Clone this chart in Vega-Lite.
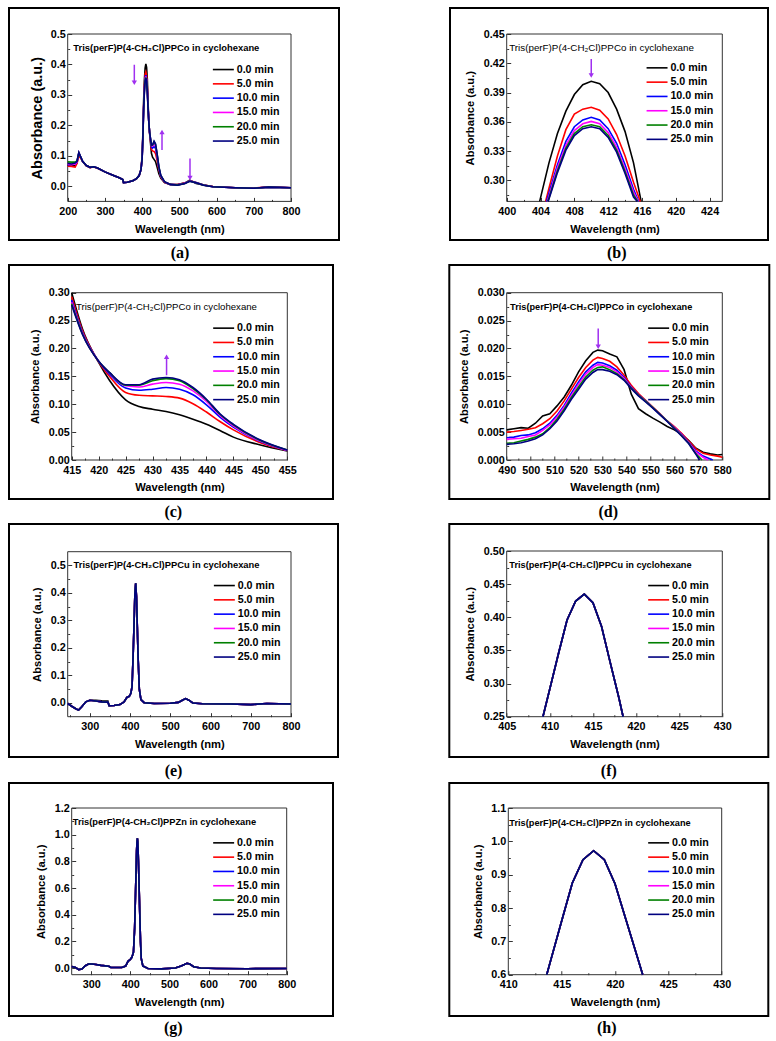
{
"$schema":"https://vega.github.io/schema/vega-lite/v6.json",
"padding":{"left":8,"top":7,"right":4,"bottom":0},
"background":"white",
"resolve":{"scale":{"color":"independent","shape":"independent","x":"independent","y":"independent"}},
"spacing":2,
"datasets":{
"a":[
{"s":0,"w":200,"a":0.069},{"s":0,"w":210,"a":0.068},{"s":0,"w":220,"a":0.068},{"s":0,"w":225,"a":0.077},{"s":0,"w":230,"a":0.108},{"s":0,"w":235,"a":0.095},{"s":0,"w":240,"a":0.082},{"s":0,"w":250,"a":0.068},{"s":0,"w":260,"a":0.062},{"s":0,"w":270,"a":0.064},{"s":0,"w":280,"a":0.06},{"s":0,"w":300,"a":0.047},{"s":0,"w":320,"a":0.037},{"s":0,"w":340,"a":0.027},{"s":0,"w":348,"a":0.022},{"s":0,"w":350,"a":0.012},{"s":0,"w":360,"a":0.013},{"s":0,"w":375,"a":0.018},{"s":0,"w":385,"a":0.025},{"s":0,"w":392,"a":0.035},{"s":0,"w":397,"a":0.055},{"s":0,"w":400,"a":0.1},{"s":0,"w":402,"a":0.175},{"s":0,"w":404,"a":0.28},{"s":0,"w":406,"a":0.348},{"s":0,"w":408,"a":0.388},{"s":0,"w":410,"a":0.4015},{"s":0,"w":412,"a":0.39},{"s":0,"w":414,"a":0.35},{"s":0,"w":416,"a":0.272},{"s":0,"w":418,"a":0.21},{"s":0,"w":420,"a":0.175},{"s":0,"w":425,"a":0.108},{"s":0,"w":428,"a":0.095},{"s":0,"w":432,"a":0.088},{"s":0,"w":436,"a":0.081},{"s":0,"w":440,"a":0.064},{"s":0,"w":445,"a":0.041},{"s":0,"w":450,"a":0.027},{"s":0,"w":460,"a":0.012},{"s":0,"w":475,"a":0.006},{"s":0,"w":495,"a":0.0057},{"s":0,"w":515,"a":0.011},{"s":0,"w":528,"a":0.0197},{"s":0,"w":545,"a":0.0092},{"s":0,"w":565,"a":0.004},{"s":0,"w":590,"a":-0.001},{"s":0,"w":650,"a":-0.005},{"s":0,"w":700,"a":-0.007},{"s":0,"w":740,"a":-0.003},{"s":0,"w":800,"a":-0.005},
{"s":5,"w":200,"a":0.066},{"s":5,"w":210,"a":0.065},{"s":5,"w":220,"a":0.063},{"s":5,"w":225,"a":0.075},{"s":5,"w":230,"a":0.1},{"s":5,"w":235,"a":0.092},{"s":5,"w":240,"a":0.081},{"s":5,"w":250,"a":0.067},{"s":5,"w":260,"a":0.061},{"s":5,"w":270,"a":0.063},{"s":5,"w":280,"a":0.059},{"s":5,"w":300,"a":0.047},{"s":5,"w":320,"a":0.037},{"s":5,"w":340,"a":0.027},{"s":5,"w":348,"a":0.022},{"s":5,"w":350,"a":0.012},{"s":5,"w":360,"a":0.013},{"s":5,"w":375,"a":0.018},{"s":5,"w":385,"a":0.025},{"s":5,"w":392,"a":0.035},{"s":5,"w":397,"a":0.055},{"s":5,"w":400,"a":0.095},{"s":5,"w":402,"a":0.165},{"s":5,"w":404,"a":0.262},{"s":5,"w":406,"a":0.325},{"s":5,"w":408,"a":0.368},{"s":5,"w":410,"a":0.375},{"s":5,"w":412,"a":0.363},{"s":5,"w":414,"a":0.325},{"s":5,"w":416,"a":0.262},{"s":5,"w":418,"a":0.21},{"s":5,"w":420,"a":0.176},{"s":5,"w":425,"a":0.121},{"s":5,"w":428,"a":0.116},{"s":5,"w":432,"a":0.114},{"s":5,"w":436,"a":0.107},{"s":5,"w":440,"a":0.086},{"s":5,"w":445,"a":0.054},{"s":5,"w":450,"a":0.031},{"s":5,"w":460,"a":0.013},{"s":5,"w":475,"a":0.006},{"s":5,"w":495,"a":0.0052},{"s":5,"w":515,"a":0.01},{"s":5,"w":528,"a":0.0184},{"s":5,"w":545,"a":0.0119},{"s":5,"w":565,"a":0.0038},{"s":5,"w":590,"a":-0.001},{"s":5,"w":650,"a":-0.005},{"s":5,"w":700,"a":-0.006},{"s":5,"w":740,"a":-0.002},{"s":5,"w":800,"a":-0.005},
{"s":10,"w":200,"a":0.07},{"s":10,"w":210,"a":0.072},{"s":10,"w":220,"a":0.072},{"s":10,"w":225,"a":0.079},{"s":10,"w":230,"a":0.11},{"s":10,"w":235,"a":0.096},{"s":10,"w":240,"a":0.082},{"s":10,"w":250,"a":0.068},{"s":10,"w":260,"a":0.062},{"s":10,"w":270,"a":0.064},{"s":10,"w":280,"a":0.06},{"s":10,"w":300,"a":0.047},{"s":10,"w":320,"a":0.037},{"s":10,"w":340,"a":0.027},{"s":10,"w":348,"a":0.022},{"s":10,"w":350,"a":0.012},{"s":10,"w":360,"a":0.013},{"s":10,"w":375,"a":0.018},{"s":10,"w":385,"a":0.025},{"s":10,"w":392,"a":0.035},{"s":10,"w":397,"a":0.055},{"s":10,"w":400,"a":0.092},{"s":10,"w":402,"a":0.162},{"s":10,"w":404,"a":0.256},{"s":10,"w":406,"a":0.316},{"s":10,"w":408,"a":0.355},{"s":10,"w":410,"a":0.3646},{"s":10,"w":412,"a":0.353},{"s":10,"w":414,"a":0.316},{"s":10,"w":416,"a":0.258},{"s":10,"w":418,"a":0.21},{"s":10,"w":420,"a":0.177},{"s":10,"w":425,"a":0.129},{"s":10,"w":428,"a":0.125},{"s":10,"w":432,"a":0.13},{"s":10,"w":436,"a":0.124},{"s":10,"w":440,"a":0.099},{"s":10,"w":445,"a":0.059},{"s":10,"w":450,"a":0.033},{"s":10,"w":460,"a":0.014},{"s":10,"w":475,"a":0.006},{"s":10,"w":495,"a":0.0042},{"s":10,"w":515,"a":0.0095},{"s":10,"w":528,"a":0.0175},{"s":10,"w":545,"a":0.0117},{"s":10,"w":565,"a":0.0036},{"s":10,"w":590,"a":-0.002},{"s":10,"w":650,"a":-0.005},{"s":10,"w":700,"a":-0.007},{"s":10,"w":740,"a":-0.003},{"s":10,"w":800,"a":-0.005},
{"s":15,"w":200,"a":0.072},{"s":15,"w":210,"a":0.071},{"s":15,"w":220,"a":0.073},{"s":15,"w":225,"a":0.08},{"s":15,"w":230,"a":0.11},{"s":15,"w":235,"a":0.096},{"s":15,"w":240,"a":0.082},{"s":15,"w":250,"a":0.068},{"s":15,"w":260,"a":0.062},{"s":15,"w":270,"a":0.064},{"s":15,"w":280,"a":0.06},{"s":15,"w":300,"a":0.047},{"s":15,"w":320,"a":0.037},{"s":15,"w":340,"a":0.027},{"s":15,"w":348,"a":0.022},{"s":15,"w":350,"a":0.012},{"s":15,"w":360,"a":0.013},{"s":15,"w":375,"a":0.018},{"s":15,"w":385,"a":0.025},{"s":15,"w":392,"a":0.035},{"s":15,"w":397,"a":0.055},{"s":15,"w":400,"a":0.091},{"s":15,"w":402,"a":0.161},{"s":15,"w":404,"a":0.254},{"s":15,"w":406,"a":0.313},{"s":15,"w":408,"a":0.351},{"s":15,"w":410,"a":0.3605},{"s":15,"w":412,"a":0.349},{"s":15,"w":414,"a":0.312},{"s":15,"w":416,"a":0.256},{"s":15,"w":418,"a":0.21},{"s":15,"w":420,"a":0.177},{"s":15,"w":425,"a":0.133},{"s":15,"w":428,"a":0.132},{"s":15,"w":432,"a":0.139},{"s":15,"w":436,"a":0.132},{"s":15,"w":440,"a":0.105},{"s":15,"w":445,"a":0.061},{"s":15,"w":450,"a":0.034},{"s":15,"w":460,"a":0.014},{"s":15,"w":475,"a":0.006},{"s":15,"w":495,"a":0.0038},{"s":15,"w":515,"a":0.0093},{"s":15,"w":528,"a":0.0171},{"s":15,"w":545,"a":0.0116},{"s":15,"w":565,"a":0.0037},{"s":15,"w":590,"a":-0.002},{"s":15,"w":650,"a":-0.005},{"s":15,"w":700,"a":-0.007},{"s":15,"w":740,"a":-0.003},{"s":15,"w":800,"a":-0.005},
{"s":20,"w":200,"a":0.08},{"s":20,"w":210,"a":0.079},{"s":20,"w":220,"a":0.079},{"s":20,"w":225,"a":0.083},{"s":20,"w":230,"a":0.11},{"s":20,"w":235,"a":0.096},{"s":20,"w":240,"a":0.082},{"s":20,"w":250,"a":0.068},{"s":20,"w":260,"a":0.062},{"s":20,"w":270,"a":0.064},{"s":20,"w":280,"a":0.06},{"s":20,"w":300,"a":0.047},{"s":20,"w":320,"a":0.037},{"s":20,"w":340,"a":0.027},{"s":20,"w":348,"a":0.022},{"s":20,"w":350,"a":0.012},{"s":20,"w":360,"a":0.013},{"s":20,"w":375,"a":0.018},{"s":20,"w":385,"a":0.025},{"s":20,"w":392,"a":0.035},{"s":20,"w":397,"a":0.055},{"s":20,"w":400,"a":0.09},{"s":20,"w":402,"a":0.16},{"s":20,"w":404,"a":0.252},{"s":20,"w":406,"a":0.31},{"s":20,"w":408,"a":0.348},{"s":20,"w":410,"a":0.357},{"s":20,"w":412,"a":0.346},{"s":20,"w":414,"a":0.309},{"s":20,"w":416,"a":0.255},{"s":20,"w":418,"a":0.21},{"s":20,"w":420,"a":0.178},{"s":20,"w":425,"a":0.134},{"s":20,"w":428,"a":0.135},{"s":20,"w":432,"a":0.146},{"s":20,"w":436,"a":0.137},{"s":20,"w":440,"a":0.108},{"s":20,"w":445,"a":0.063},{"s":20,"w":450,"a":0.035},{"s":20,"w":460,"a":0.015},{"s":20,"w":475,"a":0.006},{"s":20,"w":495,"a":0.0034},{"s":20,"w":515,"a":0.0091},{"s":20,"w":528,"a":0.0166},{"s":20,"w":545,"a":0.0116},{"s":20,"w":565,"a":0.0035},{"s":20,"w":590,"a":-0.002},{"s":20,"w":650,"a":-0.005},{"s":20,"w":700,"a":-0.007},{"s":20,"w":740,"a":-0.003},{"s":20,"w":800,"a":-0.005},
{"s":25,"w":200,"a":0.075},{"s":25,"w":210,"a":0.073},{"s":25,"w":220,"a":0.076},{"s":25,"w":225,"a":0.082},{"s":25,"w":230,"a":0.11},{"s":25,"w":235,"a":0.096},{"s":25,"w":240,"a":0.082},{"s":25,"w":250,"a":0.068},{"s":25,"w":260,"a":0.062},{"s":25,"w":270,"a":0.064},{"s":25,"w":280,"a":0.06},{"s":25,"w":300,"a":0.047},{"s":25,"w":320,"a":0.037},{"s":25,"w":340,"a":0.027},{"s":25,"w":348,"a":0.022},{"s":25,"w":350,"a":0.012},{"s":25,"w":360,"a":0.013},{"s":25,"w":375,"a":0.018},{"s":25,"w":385,"a":0.025},{"s":25,"w":392,"a":0.035},{"s":25,"w":397,"a":0.055},{"s":25,"w":400,"a":0.09},{"s":25,"w":402,"a":0.16},{"s":25,"w":404,"a":0.25},{"s":25,"w":406,"a":0.308},{"s":25,"w":408,"a":0.346},{"s":25,"w":410,"a":0.355},{"s":25,"w":412,"a":0.344},{"s":25,"w":414,"a":0.307},{"s":25,"w":416,"a":0.254},{"s":25,"w":418,"a":0.21},{"s":25,"w":420,"a":0.178},{"s":25,"w":425,"a":0.135},{"s":25,"w":428,"a":0.136},{"s":25,"w":432,"a":0.148},{"s":25,"w":436,"a":0.139},{"s":25,"w":440,"a":0.109},{"s":25,"w":445,"a":0.064},{"s":25,"w":450,"a":0.036},{"s":25,"w":460,"a":0.015},{"s":25,"w":475,"a":0.006},{"s":25,"w":495,"a":0.0031},{"s":25,"w":515,"a":0.009},{"s":25,"w":528,"a":0.0162},{"s":25,"w":545,"a":0.0115},{"s":25,"w":565,"a":0.003},{"s":25,"w":590,"a":-0.002},{"s":25,"w":650,"a":-0.005},{"s":25,"w":700,"a":-0.007},{"s":25,"w":740,"a":-0.003},{"s":25,"w":800,"a":-0.005}
],
"b":[
{"s":0,"w":403.9,"a":0.2785},{"s":0,"w":405,"a":0.318},{"s":0,"w":406,"a":0.348},{"s":0,"w":407,"a":0.371},{"s":0,"w":408,"a":0.388},{"s":0,"w":409,"a":0.398},{"s":0,"w":410,"a":0.4015},{"s":0,"w":411,"a":0.399},{"s":0,"w":412,"a":0.39},{"s":0,"w":413,"a":0.373},{"s":0,"w":414,"a":0.35},{"s":0,"w":415,"a":0.318},{"s":0,"w":415.9,"a":0.2785},
{"s":5,"w":404.6,"a":0.2785},{"s":5,"w":405,"a":0.292},{"s":5,"w":406,"a":0.325},{"s":5,"w":407,"a":0.352},{"s":5,"w":408,"a":0.368},{"s":5,"w":409,"a":0.373},{"s":5,"w":410,"a":0.375},{"s":5,"w":411,"a":0.372},{"s":5,"w":412,"a":0.363},{"s":5,"w":413,"a":0.347},{"s":5,"w":414,"a":0.325},{"s":5,"w":415,"a":0.298},{"s":5,"w":415.8,"a":0.2785},
{"s":10,"w":404.7,"a":0.2785},{"s":10,"w":405,"a":0.287},{"s":10,"w":406,"a":0.316},{"s":10,"w":407,"a":0.34},{"s":10,"w":408,"a":0.355},{"s":10,"w":409,"a":0.362},{"s":10,"w":410,"a":0.3646},{"s":10,"w":411,"a":0.362},{"s":10,"w":412,"a":0.353},{"s":10,"w":413,"a":0.338},{"s":10,"w":414,"a":0.316},{"s":10,"w":415,"a":0.291},{"s":10,"w":415.6,"a":0.2785},
{"s":15,"w":404.8,"a":0.2785},{"s":15,"w":405,"a":0.284},{"s":15,"w":406,"a":0.313},{"s":15,"w":407,"a":0.336},{"s":15,"w":408,"a":0.351},{"s":15,"w":409,"a":0.358},{"s":15,"w":410,"a":0.3605},{"s":15,"w":411,"a":0.358},{"s":15,"w":412,"a":0.349},{"s":15,"w":413,"a":0.334},{"s":15,"w":414,"a":0.312},{"s":15,"w":415,"a":0.288},{"s":15,"w":415.55,"a":0.2785},
{"s":20,"w":404.85,"a":0.2785},{"s":20,"w":405,"a":0.282},{"s":20,"w":406,"a":0.31},{"s":20,"w":407,"a":0.333},{"s":20,"w":408,"a":0.348},{"s":20,"w":409,"a":0.355},{"s":20,"w":410,"a":0.357},{"s":20,"w":411,"a":0.355},{"s":20,"w":412,"a":0.346},{"s":20,"w":413,"a":0.331},{"s":20,"w":414,"a":0.309},{"s":20,"w":415,"a":0.285},{"s":20,"w":415.5,"a":0.2785},
{"s":25,"w":404.9,"a":0.2785},{"s":25,"w":405,"a":0.281},{"s":25,"w":406,"a":0.308},{"s":25,"w":407,"a":0.331},{"s":25,"w":408,"a":0.346},{"s":25,"w":409,"a":0.353},{"s":25,"w":410,"a":0.355},{"s":25,"w":411,"a":0.353},{"s":25,"w":412,"a":0.344},{"s":25,"w":413,"a":0.329},{"s":25,"w":414,"a":0.307},{"s":25,"w":415,"a":0.283},{"s":25,"w":415.45,"a":0.2785}
],
"c":[
{"s":0,"w":415,"a":0.3},{"s":0,"w":417,"a":0.235},{"s":0,"w":420,"a":0.175},{"s":0,"w":422,"a":0.143},{"s":0,"w":425,"a":0.108},{"s":0,"w":427.5,"a":0.096},{"s":0,"w":430,"a":0.091},{"s":0,"w":432.5,"a":0.087},{"s":0,"w":435,"a":0.081},{"s":0,"w":437.5,"a":0.073},{"s":0,"w":440,"a":0.064},{"s":0,"w":442.5,"a":0.053},{"s":0,"w":445,"a":0.041},{"s":0,"w":450,"a":0.027},{"s":0,"w":455,"a":0.016},
{"s":5,"w":415,"a":0.293},{"s":5,"w":417,"a":0.232},{"s":5,"w":420,"a":0.176},{"s":5,"w":422,"a":0.15},{"s":5,"w":425,"a":0.121},{"s":5,"w":427.5,"a":0.116},{"s":5,"w":430,"a":0.115},{"s":5,"w":432.5,"a":0.114},{"s":5,"w":435,"a":0.111},{"s":5,"w":437.5,"a":0.101},{"s":5,"w":440,"a":0.086},{"s":5,"w":442.5,"a":0.069},{"s":5,"w":445,"a":0.054},{"s":5,"w":450,"a":0.031},{"s":5,"w":455,"a":0.017},
{"s":10,"w":415,"a":0.287},{"s":10,"w":417,"a":0.229},{"s":10,"w":420,"a":0.177},{"s":10,"w":422,"a":0.154},{"s":10,"w":425,"a":0.129},{"s":10,"w":427.5,"a":0.125},{"s":10,"w":430,"a":0.127},{"s":10,"w":432.5,"a":0.13},{"s":10,"w":435,"a":0.127},{"s":10,"w":437.5,"a":0.117},{"s":10,"w":440,"a":0.099},{"s":10,"w":442.5,"a":0.077},{"s":10,"w":445,"a":0.059},{"s":10,"w":450,"a":0.033},{"s":10,"w":455,"a":0.017},
{"s":15,"w":415,"a":0.283},{"s":15,"w":417,"a":0.227},{"s":15,"w":420,"a":0.177},{"s":15,"w":422,"a":0.156},{"s":15,"w":425,"a":0.133},{"s":15,"w":427.5,"a":0.131},{"s":15,"w":430,"a":0.136},{"s":15,"w":432.5,"a":0.139},{"s":15,"w":435,"a":0.136},{"s":15,"w":437.5,"a":0.124},{"s":15,"w":440,"a":0.105},{"s":15,"w":442.5,"a":0.08},{"s":15,"w":445,"a":0.061},{"s":15,"w":450,"a":0.034},{"s":15,"w":455,"a":0.017},
{"s":20,"w":415,"a":0.28},{"s":20,"w":417,"a":0.226},{"s":20,"w":420,"a":0.177},{"s":20,"w":422,"a":0.157},{"s":20,"w":425,"a":0.134},{"s":20,"w":427.5,"a":0.134},{"s":20,"w":430,"a":0.142},{"s":20,"w":432.5,"a":0.146},{"s":20,"w":435,"a":0.142},{"s":20,"w":437.5,"a":0.128},{"s":20,"w":440,"a":0.108},{"s":20,"w":442.5,"a":0.082},{"s":20,"w":445,"a":0.063},{"s":20,"w":450,"a":0.035},{"s":20,"w":455,"a":0.018},
{"s":25,"w":415,"a":0.278},{"s":25,"w":417,"a":0.225},{"s":25,"w":420,"a":0.177},{"s":25,"w":422,"a":0.157},{"s":25,"w":425,"a":0.135},{"s":25,"w":427.5,"a":0.135},{"s":25,"w":430,"a":0.145},{"s":25,"w":432.5,"a":0.148},{"s":25,"w":435,"a":0.144},{"s":25,"w":437.5,"a":0.13},{"s":25,"w":440,"a":0.109},{"s":25,"w":442.5,"a":0.083},{"s":25,"w":445,"a":0.064},{"s":25,"w":450,"a":0.036},{"s":25,"w":455,"a":0.018}
],
"d":[
{"s":0,"w":490,"a":0.0054},{"s":0,"w":493,"a":0.0056},{"s":0,"w":496,"a":0.0058},{"s":0,"w":499,"a":0.0057},{"s":0,"w":502,"a":0.0066},{"s":0,"w":505,"a":0.0079},{"s":0,"w":508,"a":0.0083},{"s":0,"w":511,"a":0.0097},{"s":0,"w":514,"a":0.0113},{"s":0,"w":517,"a":0.0134},{"s":0,"w":520,"a":0.0158},{"s":0,"w":523,"a":0.0178},{"s":0,"w":526,"a":0.0193},{"s":0,"w":528,"a":0.0197},{"s":0,"w":530,"a":0.0196},{"s":0,"w":533,"a":0.019},{"s":0,"w":536,"a":0.0185},{"s":0,"w":539,"a":0.0162},{"s":0,"w":542,"a":0.0118},{"s":0,"w":545,"a":0.0092},{"s":0,"w":548,"a":0.0083},{"s":0,"w":551,"a":0.0075},{"s":0,"w":554,"a":0.0068},{"s":0,"w":557,"a":0.006},{"s":0,"w":560,"a":0.0054},{"s":0,"w":563,"a":0.0046},{"s":0,"w":566,"a":0.0035},{"s":0,"w":569,"a":0.0021},{"s":0,"w":572,"a":0.0014},{"s":0,"w":575,"a":0.0011},{"s":0,"w":578,"a":0.0009},{"s":0,"w":580,"a":0.001},
{"s":5,"w":490,"a":0.005},{"s":5,"w":493,"a":0.0051},{"s":5,"w":496,"a":0.0053},{"s":5,"w":499,"a":0.0055},{"s":5,"w":502,"a":0.0058},{"s":5,"w":505,"a":0.0065},{"s":5,"w":508,"a":0.0074},{"s":5,"w":511,"a":0.0088},{"s":5,"w":514,"a":0.0106},{"s":5,"w":517,"a":0.0127},{"s":5,"w":520,"a":0.0148},{"s":5,"w":523,"a":0.0166},{"s":5,"w":526,"a":0.0179},{"s":5,"w":528,"a":0.0184},{"s":5,"w":530,"a":0.0182},{"s":5,"w":533,"a":0.0177},{"s":5,"w":536,"a":0.0167},{"s":5,"w":539,"a":0.0152},{"s":5,"w":542,"a":0.0134},{"s":5,"w":545,"a":0.0119},{"s":5,"w":548,"a":0.0107},{"s":5,"w":551,"a":0.0095},{"s":5,"w":554,"a":0.0083},{"s":5,"w":557,"a":0.007},{"s":5,"w":560,"a":0.006},{"s":5,"w":563,"a":0.0048},{"s":5,"w":566,"a":0.0034},{"s":5,"w":569,"a":0.002},{"s":5,"w":572,"a":0.0012},{"s":5,"w":575,"a":0.0009},{"s":5,"w":578,"a":0.0007},{"s":5,"w":580,"a":0.0005},
{"s":10,"w":490,"a":0.004},{"s":10,"w":493,"a":0.0041},{"s":10,"w":496,"a":0.0044},{"s":10,"w":499,"a":0.0045},{"s":10,"w":502,"a":0.0049},{"s":10,"w":505,"a":0.0056},{"s":10,"w":508,"a":0.0066},{"s":10,"w":511,"a":0.008},{"s":10,"w":514,"a":0.0098},{"s":10,"w":517,"a":0.012},{"s":10,"w":520,"a":0.014},{"s":10,"w":523,"a":0.0158},{"s":10,"w":526,"a":0.017},{"s":10,"w":528,"a":0.0175},{"s":10,"w":530,"a":0.0174},{"s":10,"w":533,"a":0.0169},{"s":10,"w":536,"a":0.0161},{"s":10,"w":539,"a":0.0148},{"s":10,"w":542,"a":0.0131},{"s":10,"w":545,"a":0.0117},{"s":10,"w":548,"a":0.0106},{"s":10,"w":551,"a":0.0094},{"s":10,"w":554,"a":0.0082},{"s":10,"w":557,"a":0.007},{"s":10,"w":560,"a":0.0058},{"s":10,"w":563,"a":0.0046},{"s":10,"w":566,"a":0.0032},{"s":10,"w":569,"a":0.0016},{"s":10,"w":572,"a":0.0007},{"s":10,"w":575,"a":0.0002},{"s":10,"w":576,"a":0},
{"s":15,"w":490,"a":0.0037},{"s":15,"w":493,"a":0.0038},{"s":15,"w":496,"a":0.0039},{"s":15,"w":499,"a":0.0042},{"s":15,"w":502,"a":0.0045},{"s":15,"w":505,"a":0.0053},{"s":15,"w":508,"a":0.0063},{"s":15,"w":511,"a":0.0077},{"s":15,"w":514,"a":0.0095},{"s":15,"w":517,"a":0.0116},{"s":15,"w":520,"a":0.0136},{"s":15,"w":523,"a":0.0154},{"s":15,"w":526,"a":0.0166},{"s":15,"w":528,"a":0.0171},{"s":15,"w":530,"a":0.017},{"s":15,"w":533,"a":0.0166},{"s":15,"w":536,"a":0.0158},{"s":15,"w":539,"a":0.0146},{"s":15,"w":542,"a":0.013},{"s":15,"w":545,"a":0.0116},{"s":15,"w":548,"a":0.0105},{"s":15,"w":551,"a":0.0094},{"s":15,"w":554,"a":0.0082},{"s":15,"w":557,"a":0.007},{"s":15,"w":560,"a":0.0058},{"s":15,"w":563,"a":0.0045},{"s":15,"w":566,"a":0.0031},{"s":15,"w":569,"a":0.0014},{"s":15,"w":572,"a":0.0005},{"s":15,"w":574,"a":0},
{"s":20,"w":490,"a":0.003},{"s":20,"w":493,"a":0.0031},{"s":20,"w":496,"a":0.0034},{"s":20,"w":499,"a":0.0037},{"s":20,"w":502,"a":0.0041},{"s":20,"w":505,"a":0.0047},{"s":20,"w":508,"a":0.0058},{"s":20,"w":511,"a":0.0073},{"s":20,"w":514,"a":0.0091},{"s":20,"w":517,"a":0.0112},{"s":20,"w":520,"a":0.0131},{"s":20,"w":523,"a":0.0149},{"s":20,"w":526,"a":0.0161},{"s":20,"w":528,"a":0.0166},{"s":20,"w":530,"a":0.0167},{"s":20,"w":533,"a":0.0162},{"s":20,"w":536,"a":0.0155},{"s":20,"w":539,"a":0.0144},{"s":20,"w":542,"a":0.0129},{"s":20,"w":545,"a":0.0116},{"s":20,"w":548,"a":0.0105},{"s":20,"w":551,"a":0.0094},{"s":20,"w":554,"a":0.0082},{"s":20,"w":557,"a":0.007},{"s":20,"w":560,"a":0.0057},{"s":20,"w":563,"a":0.0044},{"s":20,"w":566,"a":0.003},{"s":20,"w":569,"a":0.0011},{"s":20,"w":571.5,"a":0},
{"s":25,"w":490,"a":0.0028},{"s":25,"w":493,"a":0.0029},{"s":25,"w":496,"a":0.0031},{"s":25,"w":499,"a":0.0034},{"s":25,"w":502,"a":0.0038},{"s":25,"w":505,"a":0.0045},{"s":25,"w":508,"a":0.0056},{"s":25,"w":511,"a":0.007},{"s":25,"w":514,"a":0.0088},{"s":25,"w":517,"a":0.0109},{"s":25,"w":520,"a":0.0127},{"s":25,"w":523,"a":0.0145},{"s":25,"w":526,"a":0.0157},{"s":25,"w":528,"a":0.0162},{"s":25,"w":530,"a":0.0162},{"s":25,"w":533,"a":0.0159},{"s":25,"w":536,"a":0.0153},{"s":25,"w":539,"a":0.0143},{"s":25,"w":542,"a":0.0128},{"s":25,"w":545,"a":0.0115},{"s":25,"w":548,"a":0.0104},{"s":25,"w":551,"a":0.0093},{"s":25,"w":554,"a":0.0081},{"s":25,"w":557,"a":0.0069},{"s":25,"w":560,"a":0.0056},{"s":25,"w":563,"a":0.0043},{"s":25,"w":566,"a":0.0029},{"s":25,"w":569,"a":0.001},{"s":25,"w":570.5,"a":0}
],
"e":[
{"s":0,"w":245,"a":-0.002},{"s":0,"w":255,"a":-0.012},{"s":0,"w":265,"a":-0.021},{"s":0,"w":272,"a":-0.026},{"s":0,"w":280,"a":-0.014},{"s":0,"w":290,"a":0.004},{"s":0,"w":300,"a":0.01},{"s":0,"w":315,"a":0.01},{"s":0,"w":330,"a":0.008},{"s":0,"w":345,"a":0.007},{"s":0,"w":348,"a":-0.01},{"s":0,"w":360,"a":-0.009},{"s":0,"w":375,"a":-0.006},{"s":0,"w":385,"a":0.004},{"s":0,"w":392,"a":0.02},{"s":0,"w":398,"a":0.024},{"s":0,"w":402,"a":0.035},{"s":0,"w":405,"a":0.06},{"s":0,"w":408,"a":0.19},{"s":0,"w":410,"a":0.292},{"s":0,"w":412,"a":0.396},{"s":0,"w":414,"a":0.435},{"s":0,"w":416,"a":0.386},{"s":0,"w":418,"a":0.279},{"s":0,"w":420,"a":0.165},{"s":0,"w":423,"a":0.05},{"s":0,"w":427,"a":0.012},{"s":0,"w":435,"a":0.001},{"s":0,"w":460,"a":-0.002},{"s":0,"w":500,"a":-0.001},{"s":0,"w":520,"a":0.002},{"s":0,"w":530,"a":0.01},{"s":0,"w":538,"a":0.016},{"s":0,"w":546,"a":0.01},{"s":0,"w":556,"a":0},{"s":0,"w":580,"a":-0.003},{"s":0,"w":650,"a":-0.004},{"s":0,"w":700,"a":-0.006},{"s":0,"w":740,"a":-0.002},{"s":0,"w":800,"a":-0.004},
{"s":5,"w":245,"a":-0.002},{"s":5,"w":255,"a":-0.012},{"s":5,"w":265,"a":-0.021},{"s":5,"w":272,"a":-0.026},{"s":5,"w":280,"a":-0.014},{"s":5,"w":290,"a":0.004},{"s":5,"w":300,"a":0.01},{"s":5,"w":315,"a":0.007},{"s":5,"w":330,"a":0.004},{"s":5,"w":345,"a":0.003},{"s":5,"w":348,"a":-0.01},{"s":5,"w":360,"a":-0.009},{"s":5,"w":375,"a":-0.006},{"s":5,"w":385,"a":0.004},{"s":5,"w":392,"a":0.02},{"s":5,"w":398,"a":0.024},{"s":5,"w":402,"a":0.035},{"s":5,"w":405,"a":0.06},{"s":5,"w":408,"a":0.19},{"s":5,"w":410,"a":0.292},{"s":5,"w":412,"a":0.396},{"s":5,"w":414,"a":0.435},{"s":5,"w":416,"a":0.386},{"s":5,"w":418,"a":0.279},{"s":5,"w":420,"a":0.165},{"s":5,"w":423,"a":0.05},{"s":5,"w":427,"a":0.012},{"s":5,"w":435,"a":0.001},{"s":5,"w":460,"a":-0.002},{"s":5,"w":500,"a":-0.001},{"s":5,"w":520,"a":0.002},{"s":5,"w":530,"a":0.01},{"s":5,"w":538,"a":0.016},{"s":5,"w":546,"a":0.01},{"s":5,"w":556,"a":0},{"s":5,"w":580,"a":-0.003},{"s":5,"w":650,"a":-0.004},{"s":5,"w":700,"a":-0.006},{"s":5,"w":740,"a":-0.002},{"s":5,"w":800,"a":-0.004},
{"s":10,"w":245,"a":-0.002},{"s":10,"w":255,"a":-0.012},{"s":10,"w":265,"a":-0.021},{"s":10,"w":272,"a":-0.026},{"s":10,"w":280,"a":-0.014},{"s":10,"w":290,"a":0.004},{"s":10,"w":300,"a":0.01},{"s":10,"w":315,"a":0.007},{"s":10,"w":330,"a":0.004},{"s":10,"w":345,"a":0.003},{"s":10,"w":348,"a":-0.01},{"s":10,"w":360,"a":-0.009},{"s":10,"w":375,"a":-0.006},{"s":10,"w":385,"a":0.004},{"s":10,"w":392,"a":0.02},{"s":10,"w":398,"a":0.024},{"s":10,"w":402,"a":0.035},{"s":10,"w":405,"a":0.06},{"s":10,"w":408,"a":0.19},{"s":10,"w":410,"a":0.292},{"s":10,"w":412,"a":0.396},{"s":10,"w":414,"a":0.435},{"s":10,"w":416,"a":0.386},{"s":10,"w":418,"a":0.279},{"s":10,"w":420,"a":0.165},{"s":10,"w":423,"a":0.05},{"s":10,"w":427,"a":0.012},{"s":10,"w":435,"a":0.001},{"s":10,"w":460,"a":-0.002},{"s":10,"w":500,"a":-0.001},{"s":10,"w":520,"a":0.002},{"s":10,"w":530,"a":0.01},{"s":10,"w":538,"a":0.016},{"s":10,"w":546,"a":0.01},{"s":10,"w":556,"a":0},{"s":10,"w":580,"a":-0.003},{"s":10,"w":650,"a":-0.004},{"s":10,"w":700,"a":-0.006},{"s":10,"w":740,"a":-0.002},{"s":10,"w":800,"a":-0.004},
{"s":15,"w":245,"a":-0.002},{"s":15,"w":255,"a":-0.012},{"s":15,"w":265,"a":-0.021},{"s":15,"w":272,"a":-0.026},{"s":15,"w":280,"a":-0.014},{"s":15,"w":290,"a":0.004},{"s":15,"w":300,"a":0.01},{"s":15,"w":315,"a":0.007},{"s":15,"w":330,"a":0.004},{"s":15,"w":345,"a":0.003},{"s":15,"w":348,"a":-0.01},{"s":15,"w":360,"a":-0.009},{"s":15,"w":375,"a":-0.006},{"s":15,"w":385,"a":0.004},{"s":15,"w":392,"a":0.02},{"s":15,"w":398,"a":0.024},{"s":15,"w":402,"a":0.035},{"s":15,"w":405,"a":0.06},{"s":15,"w":408,"a":0.19},{"s":15,"w":410,"a":0.292},{"s":15,"w":412,"a":0.396},{"s":15,"w":414,"a":0.435},{"s":15,"w":416,"a":0.386},{"s":15,"w":418,"a":0.279},{"s":15,"w":420,"a":0.165},{"s":15,"w":423,"a":0.05},{"s":15,"w":427,"a":0.012},{"s":15,"w":435,"a":0.001},{"s":15,"w":460,"a":-0.002},{"s":15,"w":500,"a":-0.001},{"s":15,"w":520,"a":0.002},{"s":15,"w":530,"a":0.01},{"s":15,"w":538,"a":0.016},{"s":15,"w":546,"a":0.01},{"s":15,"w":556,"a":0},{"s":15,"w":580,"a":-0.003},{"s":15,"w":650,"a":-0.004},{"s":15,"w":700,"a":-0.006},{"s":15,"w":740,"a":-0.002},{"s":15,"w":800,"a":-0.004},
{"s":20,"w":245,"a":-0.002},{"s":20,"w":255,"a":-0.012},{"s":20,"w":265,"a":-0.021},{"s":20,"w":272,"a":-0.026},{"s":20,"w":280,"a":-0.014},{"s":20,"w":290,"a":0.004},{"s":20,"w":300,"a":0.01},{"s":20,"w":315,"a":0.007},{"s":20,"w":330,"a":0.004},{"s":20,"w":345,"a":0.003},{"s":20,"w":348,"a":-0.01},{"s":20,"w":360,"a":-0.009},{"s":20,"w":375,"a":-0.006},{"s":20,"w":385,"a":0.004},{"s":20,"w":392,"a":0.02},{"s":20,"w":398,"a":0.024},{"s":20,"w":402,"a":0.035},{"s":20,"w":405,"a":0.06},{"s":20,"w":408,"a":0.19},{"s":20,"w":410,"a":0.292},{"s":20,"w":412,"a":0.396},{"s":20,"w":414,"a":0.435},{"s":20,"w":416,"a":0.386},{"s":20,"w":418,"a":0.279},{"s":20,"w":420,"a":0.165},{"s":20,"w":423,"a":0.05},{"s":20,"w":427,"a":0.012},{"s":20,"w":435,"a":0.001},{"s":20,"w":460,"a":-0.002},{"s":20,"w":500,"a":-0.001},{"s":20,"w":520,"a":0.002},{"s":20,"w":530,"a":0.01},{"s":20,"w":538,"a":0.016},{"s":20,"w":546,"a":0.01},{"s":20,"w":556,"a":0},{"s":20,"w":580,"a":-0.003},{"s":20,"w":650,"a":-0.004},{"s":20,"w":700,"a":-0.006},{"s":20,"w":740,"a":-0.002},{"s":20,"w":800,"a":-0.004},
{"s":25,"w":245,"a":-0.002},{"s":25,"w":255,"a":-0.012},{"s":25,"w":265,"a":-0.021},{"s":25,"w":272,"a":-0.026},{"s":25,"w":280,"a":-0.014},{"s":25,"w":290,"a":0.004},{"s":25,"w":300,"a":0.01},{"s":25,"w":315,"a":0.007},{"s":25,"w":330,"a":0.004},{"s":25,"w":345,"a":0.003},{"s":25,"w":348,"a":-0.01},{"s":25,"w":360,"a":-0.009},{"s":25,"w":375,"a":-0.006},{"s":25,"w":385,"a":0.004},{"s":25,"w":392,"a":0.02},{"s":25,"w":398,"a":0.024},{"s":25,"w":402,"a":0.035},{"s":25,"w":405,"a":0.06},{"s":25,"w":408,"a":0.19},{"s":25,"w":410,"a":0.292},{"s":25,"w":412,"a":0.396},{"s":25,"w":414,"a":0.435},{"s":25,"w":416,"a":0.386},{"s":25,"w":418,"a":0.279},{"s":25,"w":420,"a":0.165},{"s":25,"w":423,"a":0.05},{"s":25,"w":427,"a":0.012},{"s":25,"w":435,"a":0.001},{"s":25,"w":460,"a":-0.002},{"s":25,"w":500,"a":-0.001},{"s":25,"w":520,"a":0.002},{"s":25,"w":530,"a":0.01},{"s":25,"w":538,"a":0.016},{"s":25,"w":546,"a":0.01},{"s":25,"w":556,"a":0},{"s":25,"w":580,"a":-0.003},{"s":25,"w":650,"a":-0.004},{"s":25,"w":700,"a":-0.006},{"s":25,"w":740,"a":-0.002},{"s":25,"w":800,"a":-0.004}
],
"f":[
{"s":0,"w":409.2,"a":0.25},{"s":0,"w":410,"a":0.292},{"s":0,"w":411,"a":0.345},{"s":0,"w":412,"a":0.396},{"s":0,"w":413,"a":0.4245},{"s":0,"w":414,"a":0.435},{"s":0,"w":415,"a":0.422},{"s":0,"w":416,"a":0.386},{"s":0,"w":417,"a":0.332},{"s":0,"w":418,"a":0.279},{"s":0,"w":418.5,"a":0.25},
{"s":5,"w":409.2,"a":0.25},{"s":5,"w":410,"a":0.292},{"s":5,"w":411,"a":0.345},{"s":5,"w":412,"a":0.396},{"s":5,"w":413,"a":0.4245},{"s":5,"w":414,"a":0.435},{"s":5,"w":415,"a":0.422},{"s":5,"w":416,"a":0.386},{"s":5,"w":417,"a":0.332},{"s":5,"w":418,"a":0.279},{"s":5,"w":418.5,"a":0.25},
{"s":10,"w":409.2,"a":0.25},{"s":10,"w":410,"a":0.292},{"s":10,"w":411,"a":0.345},{"s":10,"w":412,"a":0.396},{"s":10,"w":413,"a":0.4245},{"s":10,"w":414,"a":0.435},{"s":10,"w":415,"a":0.422},{"s":10,"w":416,"a":0.386},{"s":10,"w":417,"a":0.332},{"s":10,"w":418,"a":0.279},{"s":10,"w":418.5,"a":0.25},
{"s":15,"w":409.2,"a":0.25},{"s":15,"w":410,"a":0.292},{"s":15,"w":411,"a":0.345},{"s":15,"w":412,"a":0.396},{"s":15,"w":413,"a":0.4245},{"s":15,"w":414,"a":0.435},{"s":15,"w":415,"a":0.422},{"s":15,"w":416,"a":0.386},{"s":15,"w":417,"a":0.332},{"s":15,"w":418,"a":0.279},{"s":15,"w":418.5,"a":0.25},
{"s":20,"w":409.2,"a":0.25},{"s":20,"w":410,"a":0.292},{"s":20,"w":411,"a":0.345},{"s":20,"w":412,"a":0.396},{"s":20,"w":413,"a":0.4245},{"s":20,"w":414,"a":0.435},{"s":20,"w":415,"a":0.422},{"s":20,"w":416,"a":0.386},{"s":20,"w":417,"a":0.332},{"s":20,"w":418,"a":0.279},{"s":20,"w":418.5,"a":0.25},
{"s":25,"w":409.2,"a":0.25},{"s":25,"w":410,"a":0.292},{"s":25,"w":411,"a":0.345},{"s":25,"w":412,"a":0.396},{"s":25,"w":413,"a":0.4245},{"s":25,"w":414,"a":0.435},{"s":25,"w":415,"a":0.422},{"s":25,"w":416,"a":0.386},{"s":25,"w":417,"a":0.332},{"s":25,"w":418,"a":0.279},{"s":25,"w":418.5,"a":0.25}
],
"g":[
{"s":0,"w":250,"a":0.012},{"s":0,"w":260,"a":0.004},{"s":0,"w":268,"a":-0.012},{"s":0,"w":276,"a":-0.008},{"s":0,"w":285,"a":0.017},{"s":0,"w":293,"a":0.03},{"s":0,"w":302,"a":0.03},{"s":0,"w":312,"a":0.027},{"s":0,"w":325,"a":0.02},{"s":0,"w":345,"a":0.013},{"s":0,"w":350,"a":0.004},{"s":0,"w":362,"a":0.004},{"s":0,"w":378,"a":0.004},{"s":0,"w":388,"a":0.015},{"s":0,"w":394,"a":0.05},{"s":0,"w":400,"a":0.065},{"s":0,"w":404,"a":0.08},{"s":0,"w":408,"a":0.12},{"s":0,"w":411,"a":0.3},{"s":0,"w":413,"a":0.53},{"s":0,"w":414,"a":0.646},{"s":0,"w":415,"a":0.761},{"s":0,"w":416,"a":0.875},{"s":0,"w":417,"a":0.945},{"s":0,"w":418,"a":0.972},{"s":0,"w":419,"a":0.945},{"s":0,"w":420,"a":0.873},{"s":0,"w":421,"a":0.768},{"s":0,"w":422,"a":0.663},{"s":0,"w":424,"a":0.42},{"s":0,"w":426,"a":0.2},{"s":0,"w":428,"a":0.07},{"s":0,"w":432,"a":0.015},{"s":0,"w":445,"a":-0.004},{"s":0,"w":480,"a":-0.006},{"s":0,"w":515,"a":0},{"s":0,"w":530,"a":0.015},{"s":0,"w":545,"a":0.035},{"s":0,"w":552,"a":0.03},{"s":0,"w":562,"a":0.01},{"s":0,"w":580,"a":0},{"s":0,"w":620,"a":-0.003},{"s":0,"w":700,"a":-0.005},{"s":0,"w":800,"a":-0.003},
{"s":5,"w":250,"a":0.012},{"s":5,"w":260,"a":0.004},{"s":5,"w":268,"a":-0.012},{"s":5,"w":276,"a":-0.008},{"s":5,"w":285,"a":0.017},{"s":5,"w":293,"a":0.03},{"s":5,"w":302,"a":0.03},{"s":5,"w":312,"a":0.027},{"s":5,"w":325,"a":0.02},{"s":5,"w":345,"a":0.013},{"s":5,"w":350,"a":0.004},{"s":5,"w":362,"a":0.004},{"s":5,"w":378,"a":0.004},{"s":5,"w":388,"a":0.015},{"s":5,"w":394,"a":0.05},{"s":5,"w":400,"a":0.065},{"s":5,"w":404,"a":0.08},{"s":5,"w":408,"a":0.12},{"s":5,"w":411,"a":0.3},{"s":5,"w":413,"a":0.53},{"s":5,"w":414,"a":0.646},{"s":5,"w":415,"a":0.761},{"s":5,"w":416,"a":0.875},{"s":5,"w":417,"a":0.945},{"s":5,"w":418,"a":0.972},{"s":5,"w":419,"a":0.945},{"s":5,"w":420,"a":0.873},{"s":5,"w":421,"a":0.768},{"s":5,"w":422,"a":0.663},{"s":5,"w":424,"a":0.42},{"s":5,"w":426,"a":0.2},{"s":5,"w":428,"a":0.07},{"s":5,"w":432,"a":0.015},{"s":5,"w":445,"a":-0.004},{"s":5,"w":480,"a":-0.006},{"s":5,"w":515,"a":0},{"s":5,"w":530,"a":0.015},{"s":5,"w":545,"a":0.035},{"s":5,"w":552,"a":0.03},{"s":5,"w":562,"a":0.01},{"s":5,"w":580,"a":0},{"s":5,"w":620,"a":-0.003},{"s":5,"w":700,"a":-0.005},{"s":5,"w":800,"a":-0.003},
{"s":10,"w":250,"a":0.012},{"s":10,"w":260,"a":0.004},{"s":10,"w":268,"a":-0.012},{"s":10,"w":276,"a":-0.008},{"s":10,"w":285,"a":0.017},{"s":10,"w":293,"a":0.03},{"s":10,"w":302,"a":0.03},{"s":10,"w":312,"a":0.027},{"s":10,"w":325,"a":0.02},{"s":10,"w":345,"a":0.013},{"s":10,"w":350,"a":0.004},{"s":10,"w":362,"a":0.004},{"s":10,"w":378,"a":0.004},{"s":10,"w":388,"a":0.015},{"s":10,"w":394,"a":0.05},{"s":10,"w":400,"a":0.065},{"s":10,"w":404,"a":0.08},{"s":10,"w":408,"a":0.12},{"s":10,"w":411,"a":0.3},{"s":10,"w":413,"a":0.53},{"s":10,"w":414,"a":0.646},{"s":10,"w":415,"a":0.761},{"s":10,"w":416,"a":0.875},{"s":10,"w":417,"a":0.945},{"s":10,"w":418,"a":0.972},{"s":10,"w":419,"a":0.945},{"s":10,"w":420,"a":0.873},{"s":10,"w":421,"a":0.768},{"s":10,"w":422,"a":0.663},{"s":10,"w":424,"a":0.42},{"s":10,"w":426,"a":0.2},{"s":10,"w":428,"a":0.07},{"s":10,"w":432,"a":0.015},{"s":10,"w":445,"a":-0.004},{"s":10,"w":480,"a":-0.006},{"s":10,"w":515,"a":0},{"s":10,"w":530,"a":0.015},{"s":10,"w":545,"a":0.035},{"s":10,"w":552,"a":0.03},{"s":10,"w":562,"a":0.01},{"s":10,"w":580,"a":0},{"s":10,"w":620,"a":-0.003},{"s":10,"w":700,"a":-0.005},{"s":10,"w":800,"a":-0.003},
{"s":15,"w":250,"a":0.012},{"s":15,"w":260,"a":0.004},{"s":15,"w":268,"a":-0.012},{"s":15,"w":276,"a":-0.008},{"s":15,"w":285,"a":0.017},{"s":15,"w":293,"a":0.03},{"s":15,"w":302,"a":0.03},{"s":15,"w":312,"a":0.027},{"s":15,"w":325,"a":0.02},{"s":15,"w":345,"a":0.013},{"s":15,"w":350,"a":0.004},{"s":15,"w":362,"a":0.004},{"s":15,"w":378,"a":0.004},{"s":15,"w":388,"a":0.015},{"s":15,"w":394,"a":0.05},{"s":15,"w":400,"a":0.065},{"s":15,"w":404,"a":0.08},{"s":15,"w":408,"a":0.12},{"s":15,"w":411,"a":0.3},{"s":15,"w":413,"a":0.53},{"s":15,"w":414,"a":0.646},{"s":15,"w":415,"a":0.761},{"s":15,"w":416,"a":0.875},{"s":15,"w":417,"a":0.945},{"s":15,"w":418,"a":0.972},{"s":15,"w":419,"a":0.945},{"s":15,"w":420,"a":0.873},{"s":15,"w":421,"a":0.768},{"s":15,"w":422,"a":0.663},{"s":15,"w":424,"a":0.42},{"s":15,"w":426,"a":0.2},{"s":15,"w":428,"a":0.07},{"s":15,"w":432,"a":0.015},{"s":15,"w":445,"a":-0.004},{"s":15,"w":480,"a":-0.006},{"s":15,"w":515,"a":0},{"s":15,"w":530,"a":0.015},{"s":15,"w":545,"a":0.035},{"s":15,"w":552,"a":0.03},{"s":15,"w":562,"a":0.01},{"s":15,"w":580,"a":0},{"s":15,"w":620,"a":-0.003},{"s":15,"w":700,"a":-0.005},{"s":15,"w":800,"a":-0.003},
{"s":20,"w":250,"a":0.012},{"s":20,"w":260,"a":0.004},{"s":20,"w":268,"a":-0.012},{"s":20,"w":276,"a":-0.008},{"s":20,"w":285,"a":0.017},{"s":20,"w":293,"a":0.03},{"s":20,"w":302,"a":0.03},{"s":20,"w":312,"a":0.027},{"s":20,"w":325,"a":0.02},{"s":20,"w":345,"a":0.013},{"s":20,"w":350,"a":0.004},{"s":20,"w":362,"a":0.004},{"s":20,"w":378,"a":0.004},{"s":20,"w":388,"a":0.015},{"s":20,"w":394,"a":0.05},{"s":20,"w":400,"a":0.065},{"s":20,"w":404,"a":0.08},{"s":20,"w":408,"a":0.12},{"s":20,"w":411,"a":0.3},{"s":20,"w":413,"a":0.53},{"s":20,"w":414,"a":0.646},{"s":20,"w":415,"a":0.761},{"s":20,"w":416,"a":0.875},{"s":20,"w":417,"a":0.945},{"s":20,"w":418,"a":0.972},{"s":20,"w":419,"a":0.945},{"s":20,"w":420,"a":0.873},{"s":20,"w":421,"a":0.768},{"s":20,"w":422,"a":0.663},{"s":20,"w":424,"a":0.42},{"s":20,"w":426,"a":0.2},{"s":20,"w":428,"a":0.07},{"s":20,"w":432,"a":0.015},{"s":20,"w":445,"a":-0.004},{"s":20,"w":480,"a":-0.006},{"s":20,"w":515,"a":0},{"s":20,"w":530,"a":0.015},{"s":20,"w":545,"a":0.035},{"s":20,"w":552,"a":0.03},{"s":20,"w":562,"a":0.01},{"s":20,"w":580,"a":0},{"s":20,"w":620,"a":-0.003},{"s":20,"w":700,"a":-0.005},{"s":20,"w":800,"a":-0.003},
{"s":25,"w":250,"a":0.012},{"s":25,"w":260,"a":0.004},{"s":25,"w":268,"a":-0.012},{"s":25,"w":276,"a":-0.008},{"s":25,"w":285,"a":0.017},{"s":25,"w":293,"a":0.03},{"s":25,"w":302,"a":0.03},{"s":25,"w":312,"a":0.027},{"s":25,"w":325,"a":0.02},{"s":25,"w":345,"a":0.013},{"s":25,"w":350,"a":0.004},{"s":25,"w":362,"a":0.004},{"s":25,"w":378,"a":0.004},{"s":25,"w":388,"a":0.015},{"s":25,"w":394,"a":0.05},{"s":25,"w":400,"a":0.065},{"s":25,"w":404,"a":0.08},{"s":25,"w":408,"a":0.12},{"s":25,"w":411,"a":0.3},{"s":25,"w":413,"a":0.53},{"s":25,"w":414,"a":0.646},{"s":25,"w":415,"a":0.761},{"s":25,"w":416,"a":0.875},{"s":25,"w":417,"a":0.945},{"s":25,"w":418,"a":0.972},{"s":25,"w":419,"a":0.945},{"s":25,"w":420,"a":0.873},{"s":25,"w":421,"a":0.768},{"s":25,"w":422,"a":0.663},{"s":25,"w":424,"a":0.42},{"s":25,"w":426,"a":0.2},{"s":25,"w":428,"a":0.07},{"s":25,"w":432,"a":0.015},{"s":25,"w":445,"a":-0.004},{"s":25,"w":480,"a":-0.006},{"s":25,"w":515,"a":0},{"s":25,"w":530,"a":0.015},{"s":25,"w":545,"a":0.035},{"s":25,"w":552,"a":0.03},{"s":25,"w":562,"a":0.01},{"s":25,"w":580,"a":0},{"s":25,"w":620,"a":-0.003},{"s":25,"w":700,"a":-0.005},{"s":25,"w":800,"a":-0.003}
],
"h":[
{"s":0,"w":413.6,"a":0.6},{"s":0,"w":414,"a":0.646},{"s":0,"w":415,"a":0.761},{"s":0,"w":416,"a":0.875},{"s":0,"w":417,"a":0.945},{"s":0,"w":418,"a":0.972},{"s":0,"w":419,"a":0.945},{"s":0,"w":420,"a":0.873},{"s":0,"w":421,"a":0.768},{"s":0,"w":422,"a":0.663},{"s":0,"w":422.6,"a":0.6},
{"s":5,"w":413.6,"a":0.6},{"s":5,"w":414,"a":0.646},{"s":5,"w":415,"a":0.761},{"s":5,"w":416,"a":0.875},{"s":5,"w":417,"a":0.945},{"s":5,"w":418,"a":0.972},{"s":5,"w":419,"a":0.945},{"s":5,"w":420,"a":0.873},{"s":5,"w":421,"a":0.768},{"s":5,"w":422,"a":0.663},{"s":5,"w":422.6,"a":0.6},
{"s":10,"w":413.6,"a":0.6},{"s":10,"w":414,"a":0.646},{"s":10,"w":415,"a":0.761},{"s":10,"w":416,"a":0.875},{"s":10,"w":417,"a":0.945},{"s":10,"w":418,"a":0.972},{"s":10,"w":419,"a":0.945},{"s":10,"w":420,"a":0.873},{"s":10,"w":421,"a":0.768},{"s":10,"w":422,"a":0.663},{"s":10,"w":422.6,"a":0.6},
{"s":15,"w":413.6,"a":0.6},{"s":15,"w":414,"a":0.646},{"s":15,"w":415,"a":0.761},{"s":15,"w":416,"a":0.875},{"s":15,"w":417,"a":0.945},{"s":15,"w":418,"a":0.972},{"s":15,"w":419,"a":0.945},{"s":15,"w":420,"a":0.873},{"s":15,"w":421,"a":0.768},{"s":15,"w":422,"a":0.663},{"s":15,"w":422.6,"a":0.6},
{"s":20,"w":413.6,"a":0.6},{"s":20,"w":414,"a":0.646},{"s":20,"w":415,"a":0.761},{"s":20,"w":416,"a":0.875},{"s":20,"w":417,"a":0.945},{"s":20,"w":418,"a":0.972},{"s":20,"w":419,"a":0.945},{"s":20,"w":420,"a":0.873},{"s":20,"w":421,"a":0.768},{"s":20,"w":422,"a":0.663},{"s":20,"w":422.6,"a":0.6},
{"s":25,"w":413.6,"a":0.6},{"s":25,"w":414,"a":0.646},{"s":25,"w":415,"a":0.761},{"s":25,"w":416,"a":0.875},{"s":25,"w":417,"a":0.945},{"s":25,"w":418,"a":0.972},{"s":25,"w":419,"a":0.945},{"s":25,"w":420,"a":0.873},{"s":25,"w":421,"a":0.768},{"s":25,"w":422,"a":0.663},{"s":25,"w":422.6,"a":0.6}
]
},
"vconcat":[
{"hconcat":[
{"width":330,"height":232,"title":{"text":"(a)","dx":6,"offset":4.7},
"resolve":{"axis":{"x":"independent","y":"independent"}},
"layer":[
{"data":{"values":[{}]},"mark":{"type":"rect","filled":false,"stroke":"#333333","strokeWidth":1},
"encoding":{"x":{"datum":200,"type":"quantitative","axis":{"orient":"bottom","offset":-38.6,"values":[250,350,450,550,650,750],"tickSize":-2,"labels":false,"title":null}},"x2":{"datum":800},
"y":{"datum":-0.05,"type":"quantitative","axis":{"orient":"left","offset":-58.7,"values":[0.05,0.15,0.25,0.35,0.45],"tickSize":-2,"labels":false,"title":null}},"y2":{"datum":0.5}}},
{"data":{"name":"a"},"mark":{"type":"line"},
"encoding":{"x":{"field":"w","type":"quantitative","scale":{"domain":[200,800],"range":[58.7,282],"nice":false,"zero":false},"axis":{"orient":"bottom","offset":-38.6,"values":[200,300,400,500,600,700,800],"format":"d","title":"Wavelength (nm)"}},
"y":{"field":"a","type":"quantitative","scale":{"domain":[-0.05,0.5],"range":[193.4,26],"nice":false,"zero":false},"axis":{"orient":"left","offset":-58.7,"values":[0,0.1,0.2,0.3,0.4,0.5],"format":".1f","title":"Absorbance (a.u.)","titleFontSize":14.5,"titlePadding":6}},
"color":{"field":"s","type":"nominal","scale":{"domain":[0,5,10,15,20,25],"range":["#000000","#FF0000","#0000FF","#FF00FF","#008000","#000080"]},"legend":{"title":null,"orient":"none","legendX":209,"legendY":56.2,"symbolType":"M-2.6,0H2.6","symbolSize":65,"labelExpr":"format(datum.value,'.1f')+' min'"}}}},
{"data":{"values":[{}]},"mark":{"type":"text","align":"left","baseline":"middle","fontSize":9.4,"fontWeight":"bold","text":"Tris(perF)P(4-CH₂Cl)PPCo in cyclohexane"},
"encoding":{"x":{"datum":215.2,"type":"quantitative","axis":null},"y":{"datum":0.454,"type":"quantitative","axis":null}}},
{"data":{"values":[{"w":379,"y1":0.399,"y2":0.34,"d":"down"},{"w":453.4,"y1":0.119,"y2":0.178,"d":"up"},{"w":528.6,"y1":0.091,"y2":0.027,"d":"down"}]},
"layer":[
{"mark":{"type":"rule","color":"#A030F0","strokeWidth":1.5},"encoding":{"x":{"field":"w","type":"quantitative","axis":null},"y":{"field":"y1","type":"quantitative","axis":null},"y2":{"field":"y2"}}},
{"mark":{"type":"point","filled":true,"color":"#A030F0","size":28,"opacity":1},"encoding":{"x":{"field":"w","type":"quantitative","axis":null},"y":{"field":"y2","type":"quantitative","axis":null},"shape":{"field":"d","type":"nominal","scale":{"domain":["down","up"],"range":["triangle-down","triangle-up"]},"legend":null}}}
]}
]},
{"width":318,"height":232,"title":{"text":"(b)","dx":7.7,"offset":4.7},
"resolve":{"axis":{"x":"independent","y":"independent"}},
"layer":[
{"data":{"values":[{}]},"mark":{"type":"rect","filled":false,"stroke":"#333333","strokeWidth":1},
"encoding":{"x":{"datum":400,"type":"quantitative","axis":{"orient":"bottom","offset":-38.6,"values":[402,406,410,414,418,422],"tickSize":-2,"labels":false,"title":null}},"x2":{"datum":425.5},
"y":{"datum":0.2785,"type":"quantitative","axis":{"orient":"left","offset":-56.7,"values":[0.285,0.315,0.345,0.375,0.405,0.435],"tickSize":-2,"labels":false,"title":null}},"y2":{"datum":0.45}}},
{"data":{"name":"b"},"mark":{"type":"line"},
"encoding":{"x":{"field":"w","type":"quantitative","scale":{"domain":[400,425.5],"range":[56.7,272.3],"nice":false,"zero":false},"axis":{"orient":"bottom","offset":-38.6,"values":[400,404,408,412,416,420,424],"format":"d","title":"Wavelength (nm)"}},
"y":{"field":"a","type":"quantitative","scale":{"domain":[0.2785,0.45],"range":[193.4,26],"nice":false,"zero":false},"axis":{"orient":"left","offset":-56.7,"values":[0.3,0.33,0.36,0.39,0.42,0.45],"format":".2f","title":"Absorbance (a.u.)"}},
"color":{"field":"s","type":"nominal","scale":{"domain":[0,5,10,15,20,25],"range":["#000000","#FF0000","#0000FF","#FF00FF","#008000","#000080"]},"legend":{"title":null,"orient":"none","legendX":201.7,"legendY":54.5,"symbolType":"M-2.6,0H2.6","symbolSize":65,"labelExpr":"format(datum.value,'.1f')+' min'"}}}},
{"data":{"values":[{}]},"mark":{"type":"text","align":"left","baseline":"middle","fontSize":9.8,"fontWeight":"normal","text":"Tris(perF)P(4-CH₂Cl)PPCo in cyclohexane"},
"encoding":{"x":{"datum":400.3,"type":"quantitative","axis":null},"y":{"datum":0.4357,"type":"quantitative","axis":null}}},
{"data":{"values":[{"w":410,"y1":0.4244,"y2":0.4075,"d":"down"}]},
"layer":[
{"mark":{"type":"rule","color":"#A030F0","strokeWidth":1.5},"encoding":{"x":{"field":"w","type":"quantitative","axis":null},"y":{"field":"y1","type":"quantitative","axis":null},"y2":{"field":"y2"}}},
{"mark":{"type":"point","filled":true,"color":"#A030F0","size":28,"opacity":1},"encoding":{"x":{"field":"w","type":"quantitative","axis":null},"y":{"field":"y2","type":"quantitative","axis":null},"shape":{"field":"d","type":"nominal","scale":{"domain":["down","up"],"range":["triangle-down","triangle-up"]},"legend":null}}}
]}
]}
],"spacing":109,"resolve":{"scale":{"color":"independent","shape":"independent","x":"independent","y":"independent"}}},
{"hconcat":[
{"width":324,"height":234,"title":{"text":"(c)","dx":2.3,"offset":4.7},
"resolve":{"axis":{"x":"independent","y":"independent"}},
"layer":[
{"data":{"values":[{}]},"mark":{"type":"rect","filled":false,"stroke":"#333333","strokeWidth":1},
"encoding":{"x":{"datum":415,"type":"quantitative","axis":{"orient":"bottom","offset":-39,"values":[417.5,422.5,427.5,432.5,437.5,442.5,447.5,452.5],"tickSize":-2,"labels":false,"title":null}},"x2":{"datum":455},
"y":{"datum":0,"type":"quantitative","axis":{"orient":"left","offset":-62.7,"values":[0.025,0.075,0.125,0.175,0.225,0.275],"tickSize":-2,"labels":false,"title":null}},"y2":{"datum":0.3}}},
{"data":{"name":"c"},"mark":{"type":"line","interpolate":"monotone"},
"encoding":{"x":{"field":"w","type":"quantitative","scale":{"domain":[415,455],"range":[62.7,278.3],"nice":false,"zero":false},"axis":{"orient":"bottom","offset":-39,"values":[415,420,425,430,435,440,445,450,455],"format":"d","title":"Wavelength (nm)"}},
"y":{"field":"a","type":"quantitative","scale":{"domain":[0,0.3],"range":[195,27.7],"nice":false,"zero":false},"axis":{"orient":"left","offset":-62.7,"values":[0,0.05,0.1,0.15,0.2,0.25,0.3],"format":".2f","title":"Absorbance (a.u.)"}},
"color":{"field":"s","type":"nominal","scale":{"domain":[0,5,10,15,20,25],"range":["#000000","#FF0000","#0000FF","#FF00FF","#008000","#000080"]},"legend":{"title":null,"orient":"none","legendX":209.3,"legendY":57.8,"symbolType":"M-2.6,0H2.6","symbolSize":65,"labelExpr":"format(datum.value,'.1f')+' min'"}}}},
{"data":{"values":[{}]},"mark":{"type":"text","align":"left","baseline":"middle","fontSize":9.6,"fontWeight":"normal","text":"Tris(perF)P(4-CH₂Cl)PPCo in cyclohexane"},
"encoding":{"x":{"datum":415.8,"type":"quantitative","axis":null},"y":{"datum":0.275,"type":"quantitative","axis":null}}},
{"data":{"values":[{"w":432.6,"y1":0.152,"y2":0.185,"d":"up"}]},
"layer":[
{"mark":{"type":"rule","color":"#A030F0","strokeWidth":1.5},"encoding":{"x":{"field":"w","type":"quantitative","axis":null},"y":{"field":"y1","type":"quantitative","axis":null},"y2":{"field":"y2"}}},
{"mark":{"type":"point","filled":true,"color":"#A030F0","size":28,"opacity":1},"encoding":{"x":{"field":"w","type":"quantitative","axis":null},"y":{"field":"y2","type":"quantitative","axis":null},"shape":{"field":"d","type":"nominal","scale":{"domain":["down","up"],"range":["triangle-down","triangle-up"]},"legend":null}}}
]}
]},
{"width":320,"height":234,"title":{"text":"(d)","dx":-1,"offset":4.7},
"resolve":{"axis":{"x":"independent","y":"independent"}},
"layer":[
{"data":{"values":[{}]},"mark":{"type":"rect","filled":false,"stroke":"#333333","strokeWidth":1},
"encoding":{"x":{"datum":490,"type":"quantitative","axis":{"orient":"bottom","offset":-39,"values":[495,505,515,525,535,545,555,565,575],"tickSize":-2,"labels":false,"title":null}},"x2":{"datum":580},
"y":{"datum":0,"type":"quantitative","axis":{"orient":"left","offset":-57.4,"values":[0.0025,0.0075,0.0125,0.0175,0.0225,0.0275],"tickSize":-2,"labels":false,"title":null}},"y2":{"datum":0.03}}},
{"data":{"name":"d"},"mark":{"type":"line"},
"encoding":{"x":{"field":"w","type":"quantitative","scale":{"domain":[490,580],"range":[57.4,273],"nice":false,"zero":false},"axis":{"orient":"bottom","offset":-39,"values":[490,500,510,520,530,540,550,560,570,580],"format":"d","title":"Wavelength (nm)"}},
"y":{"field":"a","type":"quantitative","scale":{"domain":[0,0.03],"range":[195,27.7],"nice":false,"zero":false},"axis":{"orient":"left","offset":-57.4,"values":[0,0.005,0.01,0.015,0.02,0.025,0.03],"format":".3f","title":"Absorbance (a.u.)"}},
"color":{"field":"s","type":"nominal","scale":{"domain":[0,5,10,15,20,25],"range":["#000000","#FF0000","#0000FF","#FF00FF","#008000","#000080"]},"legend":{"title":null,"orient":"none","legendX":204,"legendY":57.8,"symbolType":"M-2.6,0H2.6","symbolSize":65,"labelExpr":"format(datum.value,'.1f')+' min'"}}}},
{"data":{"values":[{}]},"mark":{"type":"text","align":"left","baseline":"middle","fontSize":9.2,"fontWeight":"bold","text":"Tris(perF)P(4-CH₂Cl)PPCo in cyclohexane"},
"encoding":{"x":{"datum":491.4,"type":"quantitative","axis":null},"y":{"datum":0.0275,"type":"quantitative","axis":null}}},
{"data":{"values":[{"w":528.2,"y1":0.0236,"y2":0.0203,"d":"down"}]},
"layer":[
{"mark":{"type":"rule","color":"#A030F0","strokeWidth":1.5},"encoding":{"x":{"field":"w","type":"quantitative","axis":null},"y":{"field":"y1","type":"quantitative","axis":null},"y2":{"field":"y2"}}},
{"mark":{"type":"point","filled":true,"color":"#A030F0","size":28,"opacity":1},"encoding":{"x":{"field":"w","type":"quantitative","axis":null},"y":{"field":"y2","type":"quantitative","axis":null},"shape":{"field":"d","type":"nominal","scale":{"domain":["down","up"],"range":["triangle-down","triangle-up"]},"legend":null}}}
]}
]}
],"spacing":114.3,"resolve":{"scale":{"color":"independent","shape":"independent","x":"independent","y":"independent"}}},
{"hconcat":[
{"width":329,"height":233,"title":{"text":"(e)","dx":0,"offset":6},
"resolve":{"axis":{"x":"independent","y":"independent"}},
"layer":[
{"data":{"values":[{}]},"mark":{"type":"rect","filled":false,"stroke":"#333333","strokeWidth":1},
"encoding":{"x":{"datum":245,"type":"quantitative","axis":{"orient":"bottom","offset":-40.3,"values":[250,350,450,550,650,750],"tickSize":-2,"labels":false,"title":null}},"x2":{"datum":800},
"y":{"datum":-0.05,"type":"quantitative","axis":{"orient":"left","offset":-58.7,"values":[0.05,0.15,0.25,0.35,0.45],"tickSize":-2,"labels":false,"title":null}},"y2":{"datum":0.55}}},
{"data":{"name":"e"},"mark":{"type":"line"},
"encoding":{"x":{"field":"w","type":"quantitative","scale":{"domain":[245,800],"range":[58.7,282],"nice":false,"zero":false},"axis":{"orient":"bottom","offset":-40.3,"values":[300,400,500,600,700,800],"format":"d","title":"Wavelength (nm)"}},
"y":{"field":"a","type":"quantitative","scale":{"domain":[-0.05,0.55],"range":[192.7,27.7],"nice":false,"zero":false},"axis":{"orient":"left","offset":-58.7,"values":[0,0.1,0.2,0.3,0.4,0.5],"format":".1f","title":"Absorbance (a.u.)"}},
"color":{"field":"s","type":"nominal","scale":{"domain":[0,5,10,15,20,25],"range":["#000000","#FF0000","#0000FF","#FF00FF","#008000","#000080"]},"legend":{"title":null,"orient":"none","legendX":210,"legendY":56.2,"symbolType":"M-2.6,0H2.6","symbolSize":65,"labelExpr":"format(datum.value,'.1f')+' min'"}}}},
{"data":{"values":[{}]},"mark":{"type":"text","align":"left","baseline":"middle","fontSize":9.4,"fontWeight":"bold","text":"Tris(perF)P(4-CH₂Cl)PPCu in cyclohexane"},
"encoding":{"x":{"datum":259.5,"type":"quantitative","axis":null},"y":{"datum":0.5,"type":"quantitative","axis":null}}}
]},
{"width":319,"height":233,"title":{"text":"(f)","dx":0,"offset":6},
"resolve":{"axis":{"x":"independent","y":"independent"}},
"layer":[
{"data":{"values":[{}]},"mark":{"type":"rect","filled":false,"stroke":"#333333","strokeWidth":1},
"encoding":{"x":{"datum":405,"type":"quantitative","axis":{"orient":"bottom","offset":-40.3,"values":[407.5,412.5,417.5,422.5,427.5],"tickSize":-2,"labels":false,"title":null}},"x2":{"datum":430},
"y":{"datum":0.25,"type":"quantitative","axis":{"orient":"left","offset":-57.4,"values":[0.275,0.325,0.375,0.425,0.475],"tickSize":-2,"labels":false,"title":null}},"y2":{"datum":0.5}}},
{"data":{"name":"f"},"mark":{"type":"line"},
"encoding":{"x":{"field":"w","type":"quantitative","scale":{"domain":[405,430],"range":[57.4,273],"nice":false,"zero":false},"axis":{"orient":"bottom","offset":-40.3,"values":[405,410,415,420,425,430],"format":"d","title":"Wavelength (nm)"}},
"y":{"field":"a","type":"quantitative","scale":{"domain":[0.25,0.5],"range":[192.7,27],"nice":false,"zero":false},"axis":{"orient":"left","offset":-57.4,"values":[0.25,0.3,0.35,0.4,0.45,0.5],"format":".2f","title":"Absorbance (a.u.)"}},
"color":{"field":"s","type":"nominal","scale":{"domain":[0,5,10,15,20,25],"range":["#000000","#FF0000","#0000FF","#FF00FF","#008000","#000080"]},"legend":{"title":null,"orient":"none","legendX":204,"legendY":56.2,"symbolType":"M-2.6,0H2.6","symbolSize":65,"labelExpr":"format(datum.value,'.1f')+' min'"}}}},
{"data":{"values":[{}]},"mark":{"type":"text","align":"left","baseline":"middle","fontSize":9.2,"fontWeight":"bold","text":"Tris(perF)P(4-CH₂Cl)PPCu in cyclohexane"},
"encoding":{"x":{"datum":405.3,"type":"quantitative","axis":null},"y":{"datum":0.479,"type":"quantitative","axis":null}}}
]}
],"spacing":109.3,"resolve":{"scale":{"color":"independent","shape":"independent","x":"independent","y":"independent"}}},
{"hconcat":[
{"width":324,"height":233,"title":{"text":"(g)","dx":2.3,"offset":4},
"resolve":{"axis":{"x":"independent","y":"independent"}},
"layer":[
{"data":{"values":[{}]},"mark":{"type":"rect","filled":false,"stroke":"#333333","strokeWidth":1},
"encoding":{"x":{"datum":250,"type":"quantitative","axis":{"orient":"bottom","offset":-41.3,"values":[350,450,550,650,750],"tickSize":-2,"labels":false,"title":null}},"x2":{"datum":800},
"y":{"datum":-0.05,"type":"quantitative","axis":{"orient":"left","offset":-62.7,"values":[0.1,0.3,0.5,0.7,0.9,1.1],"tickSize":-2,"labels":false,"title":null}},"y2":{"datum":1.2}}},
{"data":{"name":"g"},"mark":{"type":"line"},
"encoding":{"x":{"field":"w","type":"quantitative","scale":{"domain":[250,800],"range":[62.7,277.7],"nice":false,"zero":false},"axis":{"orient":"bottom","offset":-41.3,"values":[300,400,500,600,700,800],"format":"d","title":"Wavelength (nm)"}},
"y":{"field":"a","type":"quantitative","scale":{"domain":[-0.05,1.2],"range":[191.7,25],"nice":false,"zero":false},"axis":{"orient":"left","offset":-62.7,"values":[0,0.2,0.4,0.6,0.8,1,1.2],"format":".1f","title":"Absorbance (a.u.)"}},
"color":{"field":"s","type":"nominal","scale":{"domain":[0,5,10,15,20,25],"range":["#000000","#FF0000","#0000FF","#FF00FF","#008000","#000080"]},"legend":{"title":null,"orient":"none","legendX":209.3,"legendY":54.5,"symbolType":"M-2.6,0H2.6","symbolSize":65,"labelExpr":"format(datum.value,'.1f')+' min'"}}}},
{"data":{"values":[{}]},"mark":{"type":"text","align":"left","baseline":"middle","fontSize":9.3,"fontWeight":"bold","text":"Tris(perF)P(4-CH₂Cl)PPZn in cyclohexane"},
"encoding":{"x":{"datum":252.6,"type":"quantitative","axis":null},"y":{"datum":1.0925,"type":"quantitative","axis":null}}}
]},
{"width":319,"height":233,"title":{"text":"(h)","dx":-2,"offset":4},
"resolve":{"axis":{"x":"independent","y":"independent"}},
"layer":[
{"data":{"values":[{}]},"mark":{"type":"rect","filled":false,"stroke":"#333333","strokeWidth":1},
"encoding":{"x":{"datum":410,"type":"quantitative","axis":{"orient":"bottom","offset":-41.3,"values":[412.5,417.5,422.5,427.5],"tickSize":-2,"labels":false,"title":null}},"x2":{"datum":430},
"y":{"datum":0.6,"type":"quantitative","axis":{"orient":"left","offset":-59,"values":[0.65,0.75,0.85,0.95,1.05],"tickSize":-2,"labels":false,"title":null}},"y2":{"datum":1.1}}},
{"data":{"name":"h"},"mark":{"type":"line"},
"encoding":{"x":{"field":"w","type":"quantitative","scale":{"domain":[410,430],"range":[59,272.4],"nice":false,"zero":false},"axis":{"orient":"bottom","offset":-41.3,"values":[410,415,420,425,430],"format":"d","title":"Wavelength (nm)"}},
"y":{"field":"a","type":"quantitative","scale":{"domain":[0.6,1.1],"range":[191.7,25],"nice":false,"zero":false},"axis":{"orient":"left","offset":-59,"values":[0.6,0.7,0.8,0.9,1,1.1],"format":".1f","title":"Absorbance (a.u.)"}},
"color":{"field":"s","type":"nominal","scale":{"domain":[0,5,10,15,20,25],"range":["#000000","#FF0000","#0000FF","#FF00FF","#008000","#000080"]},"legend":{"title":null,"orient":"none","legendX":204,"legendY":54.5,"symbolType":"M-2.6,0H2.6","symbolSize":65,"labelExpr":"format(datum.value,'.1f')+' min'"}}}},
{"data":{"values":[{}]},"mark":{"type":"text","align":"left","baseline":"middle","fontSize":9.2,"fontWeight":"bold","text":"Tris(perF)P(4-CH₂Cl)PPZn in cyclohexane"},
"encoding":{"x":{"datum":410.1,"type":"quantitative","axis":null},"y":{"datum":1.055,"type":"quantitative","axis":null}}}
]}
],"spacing":114.3,"resolve":{"scale":{"color":"independent","shape":"independent","x":"independent","y":"independent"}}}
],
"config":{
"view":{"stroke":"#000000","strokeWidth":2},
"font":"Liberation Sans",
"axis":{"grid":false,"domain":false,"tickColor":"#333333","tickWidth":1,"tickSize":-4,"labelFont":"Liberation Sans","labelFontSize":10.8,"labelFontWeight":"bold","labelColor":"#000000","labelFlush":false,"labelOverlap":false,"titleFont":"Liberation Sans","titleFontSize":11.2,"titleFontWeight":"bold","titleColor":"#000000"},
"axisX":{"labelPadding":8,"titlePadding":7},
"axisY":{"labelPadding":6.5,"titlePadding":7.5},
"legend":{"labelFont":"Liberation Sans","labelFontSize":10.7,"labelFontWeight":"bold","labelColor":"#000000","symbolStrokeWidth":2,"labelOffset":8,"rowPadding":2.3,"padding":0,"symbolFillColor":"transparent"},
"title":{"orient":"bottom","font":"Liberation Serif","fontSize":16,"fontWeight":"bold","color":"#000000","anchor":"middle"},
"line":{"strokeWidth":1.6},
"text":{"font":"Liberation Sans","color":"#000000"}
}
}
